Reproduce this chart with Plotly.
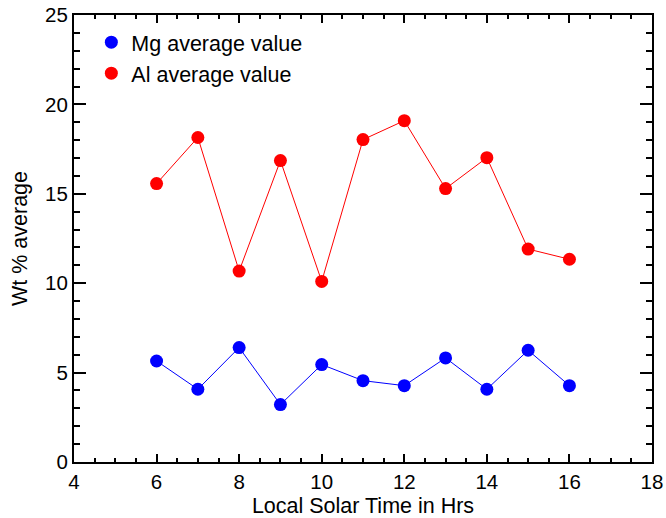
import plotly.graph_objects as go

# Local solar time (hours) and weight-percent averages
hours = [6, 7, 8, 9, 10, 11, 12, 13, 14, 15, 16]
mg_avg = [5.65, 4.07, 6.40, 3.21, 5.45, 4.55, 4.27, 5.82, 4.07, 6.25, 4.27]
al_avg = [15.57, 18.15, 10.68, 16.86, 10.10, 18.03, 19.09, 15.29, 17.02, 11.91, 11.34]

series = [
    ("Mg average value", mg_avg, "#0000ff"),
    ("Al average value", al_avg, "#ff0000"),
]

FONT = "Liberation Sans, Arial, Helvetica, sans-serif"
TICK_SIZE = 20.5
TEXT_SIZE = 21.5

fig = go.Figure()
for i, (name, vals, color) in enumerate(series):
    fig.add_trace(go.Scatter(
        x=hours, y=vals, mode="lines+markers", name=name,
        line=dict(color=color, width=1),
        marker=dict(color=color, size=13),
        showlegend=False,
    ))
    # marker-only legend entry
    fig.add_trace(go.Scatter(
        x=[None], y=[None], mode="markers", name=name,
        marker=dict(color=color, size=13),
        legendgroup=f"g{i}", showlegend=True,
    ))

axis_common = dict(
    showline=True, linecolor="black", linewidth=2, mirror="allticks",
    ticks="inside", tickcolor="black", tickwidth=2,
    showgrid=False, zeroline=False, automargin=False,
    tickfont=dict(family=FONT, size=TICK_SIZE, color="black"),
)

fig.update_xaxes(
    range=[4, 18], dtick=2, tick0=4, ticklen=8, ticklabelstandoff=0,
    minor=dict(ticks="inside", dtick=0.5, ticklen=4, tickcolor="black", tickwidth=2, showgrid=False),
    title=dict(text="Local Solar Time in Hrs", font=dict(family=FONT, size=TEXT_SIZE, color="black"), standoff=7),
    **axis_common,
)
fig.update_yaxes(
    range=[0, 25], dtick=5, tick0=0, ticklen=12,
    minor=dict(ticks="inside", dtick=1, ticklen=6, tickcolor="black", tickwidth=2, showgrid=False),
    title=dict(text="Wt % average", font=dict(family=FONT, size=TEXT_SIZE, color="black"), standoff=12),
    **axis_common,
)

fig.update_layout(
    width=666, height=518,
    margin=dict(l=74, r=14, t=15, b=56),
    plot_bgcolor="white", paper_bgcolor="white",
    font=dict(family=FONT, size=TEXT_SIZE, color="black"),
    legend=dict(
        x=0.03, y=0.985, xanchor="left", yanchor="top",
        bgcolor="rgba(0,0,0,0)", borderwidth=0,
        font=dict(family=FONT, size=TEXT_SIZE, color="black"),
        tracegroupgap=0, itemwidth=30,
    ),
)

fig.write_html("out.html")
